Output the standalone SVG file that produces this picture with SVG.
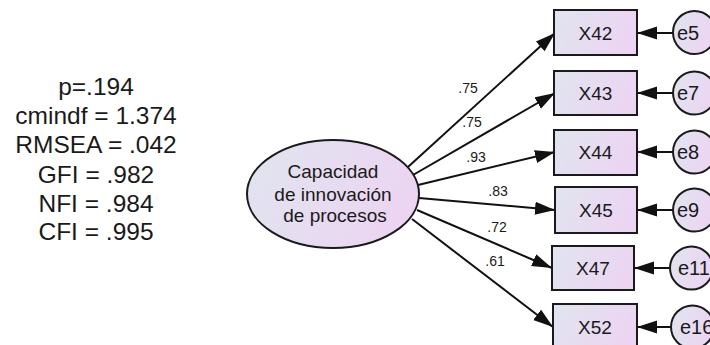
<svg xmlns="http://www.w3.org/2000/svg" width="710" height="345" viewBox="0 0 710 345">
<style>
.fit{font-family:"Liberation Sans",Arial,sans-serif;font-size:24.5px;fill:#1a1a1a;text-anchor:middle}
.lat{font-family:"Liberation Sans",Arial,sans-serif;font-size:19px;fill:#1a1a1a;text-anchor:middle}
.obs{font-family:"Liberation Sans",Arial,sans-serif;font-size:19px;fill:#1a1a1a;text-anchor:middle}
.err{font-family:"Liberation Sans",Arial,sans-serif;font-size:20px;fill:#1a1a1a;text-anchor:start}
.lbl{font-family:"Liberation Sans",Arial,sans-serif;font-size:14px;fill:#1a1a1a;text-anchor:middle}
.shape{stroke:#1a1a1a;stroke-width:2}
.box{fill:url(#g)}
.circ{fill:url(#g)}
.path{stroke:#111;stroke-width:2;fill:none;marker-end:url(#ah)}
</style>
<defs>
<linearGradient id="g" x1="0" y1="0" x2="1" y2="0.3">
<stop offset="0" stop-color="#e0e5ef"/>
<stop offset="1" stop-color="#ecd5f2"/>
</linearGradient>
<marker id="ah" markerUnits="userSpaceOnUse" markerWidth="22" markerHeight="14" refX="20" refY="6.5" orient="auto">
<path d="M0,0 L20,6.5 L0,13 z" fill="#111"/>
</marker>
</defs>

<g id="fit-indices">
<text class="fit" x="96" y="95">p=.194</text>
<text class="fit" x="96" y="124">cmindf = 1.374</text>
<text class="fit" x="96" y="153">RMSEA = .042</text>
<text class="fit" x="96" y="183">GFI = .982</text>
<text class="fit" x="96" y="212">NFI = .984</text>
<text class="fit" x="96" y="240">CFI = .995</text>
</g>

<g id="connectors">
<line class="path" x1="408" y1="167" x2="555" y2="33"/>
<line class="path" x1="413" y1="175" x2="555" y2="93"/>
<line class="path" x1="418" y1="185" x2="555" y2="152"/>
<line class="path" x1="419" y1="198" x2="555" y2="210"/>
<line class="path" x1="417" y1="210" x2="552" y2="268"/>
<line class="path" x1="412" y1="219" x2="553" y2="327"/>
<line class="path" x1="673" y1="33" x2="637" y2="33"/>
<line class="path" x1="673" y1="93" x2="637" y2="93"/>
<line class="path" x1="673" y1="152" x2="637" y2="152"/>
<line class="path" x1="673" y1="210" x2="637" y2="210"/>
<line class="path" x1="670" y1="268" x2="634" y2="268"/>
<line class="path" x1="671" y1="327" x2="637" y2="327"/>
<text class="lbl" x="468" y="93">.75</text>
<text class="lbl" x="472" y="127">.75</text>
<text class="lbl" x="476" y="162">.93</text>
<text class="lbl" x="498" y="196">.83</text>
<text class="lbl" x="497" y="232">.72</text>
<text class="lbl" x="495" y="266">.61</text>
</g>

<g id="capacidad">
<ellipse class="shape" cx="333" cy="194" rx="86" ry="54" fill="url(#g)"/>
<text class="lat" x="333" y="178">Capacidad</text>
<text class="lat" x="333" y="201">de innovación</text>
<text class="lat" x="335" y="222">de procesos</text>
</g>

<g id="X42"><rect class="shape box" x="554" y="10" width="83" height="45"/><text class="obs" x="595.5" y="39.5">X42</text></g>
<g id="X43"><rect class="shape box" x="554" y="71" width="83" height="44"/><text class="obs" x="595.5" y="100">X43</text></g>
<g id="X44"><rect class="shape box" x="554" y="130" width="83" height="45"/><text class="obs" x="595.5" y="159">X44</text></g>
<g id="X45"><rect class="shape box" x="555" y="187" width="82" height="46"/><text class="obs" x="596" y="217">X45</text></g>
<g id="X47"><rect class="shape box" x="552" y="246" width="82" height="44"/><text class="obs" x="593" y="275">X47</text></g>
<g id="X52"><rect class="shape box" x="553" y="304" width="84" height="46"/><text class="obs" x="595" y="334">X52</text></g>

<g id="e5"><circle class="shape circ" cx="694.5" cy="32.5" r="21.5"/><text class="err" x="677" y="40">e5</text></g>
<g id="e7"><circle class="shape circ" cx="694.5" cy="93" r="21.5"/><text class="err" x="677" y="100">e7</text></g>
<g id="e8"><circle class="shape circ" cx="694.5" cy="152" r="21.5"/><text class="err" x="677" y="159">e8</text></g>
<g id="e9"><circle class="shape circ" cx="694.5" cy="210" r="21.5"/><text class="err" x="677" y="217">e9</text></g>
<g id="e11"><circle class="shape circ" cx="691.5" cy="268" r="21.5"/><text class="err" x="678" y="275">e11</text></g>
<g id="e16"><circle class="shape circ" cx="692.5" cy="327" r="21.5"/><text class="err" x="680" y="334">e16</text></g>
</svg>
